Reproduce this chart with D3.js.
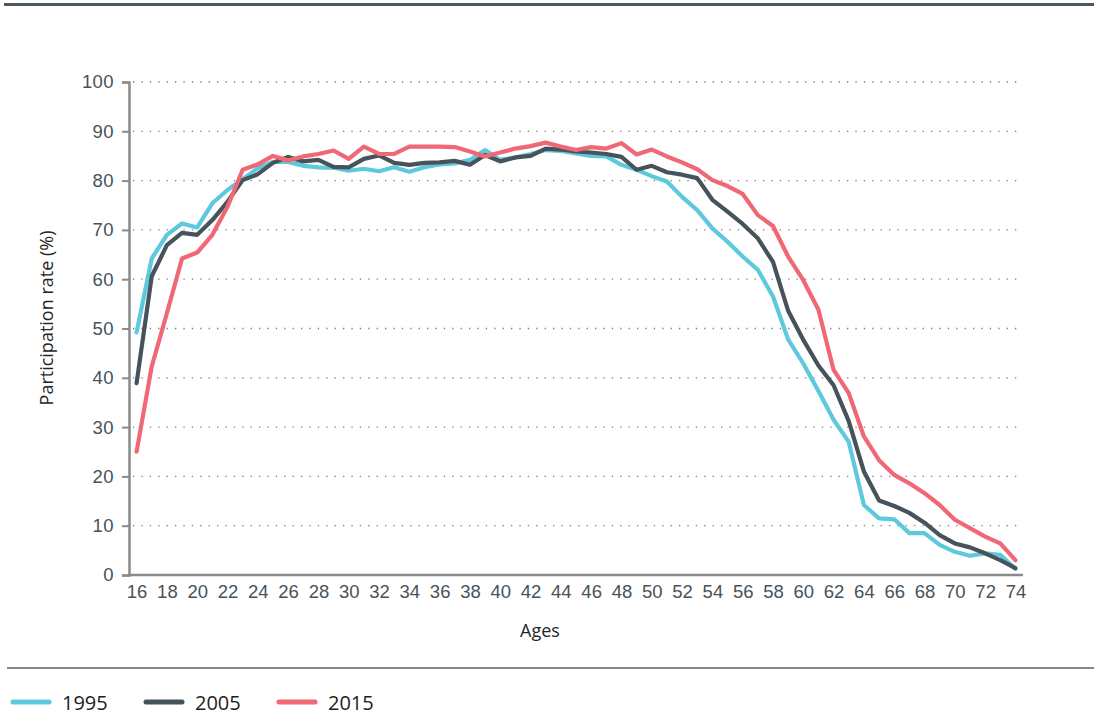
<!DOCTYPE html>
<html>
<head>
<meta charset="utf-8">
<script src="https://cdn.jsdelivr.net/npm/d3@7"></script>
<style>
  html, body { margin: 0; padding: 0; background: #fff; }
  svg { display: block; font-family: "Open Sans", Lato, sans-serif; }
</style>
</head>
<body>
<script>
// ages 16..74
const ages = d3.range(16, 75);
const yTicks = [0, 10, 20, 30, 40, 50, 60, 70, 80, 90, 100];
const xTickLabels = ages.filter(a => a % 2 === 0);

const rate1995 = [49.2, 64.2, 69.0, 71.3, 70.5, 75.4, 78.1, 80.3, 82.5, 83.8,
  83.8, 83.0, 82.7, 82.6, 82.0, 82.4, 81.9, 82.7, 81.8, 82.7,
  83.3, 83.5, 84.2, 86.2, 84.2, 84.7, 85.4, 86.2, 86.0, 85.5,
  85.0, 84.9, 83.2, 82.2, 80.9, 79.8, 76.7, 74.0, 70.3, 67.6,
  64.6, 61.9, 56.5, 47.8, 42.9, 37.3, 31.5, 27.0, 14.2, 11.5,
  11.3, 8.5, 8.5, 6.1, 4.7, 3.9, 4.4, 4.1, 1.2];
const rate2005 = [38.9, 60.6, 66.9, 69.4, 69.0, 72.0, 75.7, 80.1, 81.3, 83.6,
  84.8, 83.9, 84.2, 82.8, 82.7, 84.4, 85.1, 83.6, 83.2, 83.6,
  83.7, 84.0, 83.2, 85.2, 83.9, 84.7, 85.0, 86.5, 86.3, 85.9,
  85.7, 85.4, 84.8, 82.2, 83.0, 81.7, 81.2, 80.5, 76.1, 73.7,
  71.2, 68.3, 63.5, 53.6, 47.7, 42.5, 38.5, 31.2, 21.0, 15.1,
  14.0, 12.6, 10.6, 8.1, 6.4, 5.6, 4.4, 3.0, 1.4];
const rate2015 = [25.0, 42.3, 53.1, 64.2, 65.4, 69.0, 74.7, 82.2, 83.3, 85.0,
  84.1, 84.9, 85.4, 86.1, 84.4, 86.9, 85.4, 85.4, 86.9, 86.9,
  86.9, 86.8, 85.9, 84.9, 85.7, 86.5, 87.0, 87.7, 86.9, 86.2,
  86.8, 86.5, 87.6, 85.3, 86.3, 84.9, 83.7, 82.3, 80.1, 78.9,
  77.3, 73.0, 70.8, 64.6, 59.8, 53.8, 41.6, 36.9, 28.1, 23.3,
  20.3, 18.6, 16.6, 14.2, 11.2, 9.5, 7.8, 6.4, 3.0];

const seriesNames = ["1995", "2005", "2015"];
const seriesColors = ["#5ec9dc", "#46535b", "#f06775"];
const seriesData = [rate1995, rate2005, rate2015];

const W = 1094, H = 715;
const svg = d3.select("body").append("svg").attr("width", W).attr("height", H);

const x = d3.scalePoint().domain(ages).range([129, 1023]).padding(0.5);
const y = d3.scaleLinear().domain([0, 100]).range([575, 82]);

// top rule
svg.append("rect").attr("x", 4).attr("y", 3).attr("width", W - 4).attr("height", 3).attr("fill", "#4b575f");

// grid
svg.append("g").selectAll("line")
  .data(yTicks.filter(d => d > 0))
  .enter().append("line")
  .attr("x1", 133).attr("x2", 1023)
  .attr("y1", d => y(d)).attr("y2", d => y(d))
  .attr("stroke", "#7a7a7a").attr("stroke-width", 1.3)
  .attr("stroke-dasharray", "1.3,7.1");

// y axis
const yAxis = svg.append("g").attr("transform", "translate(129,0)")
  .call(d3.axisLeft(y).tickValues(yTicks).tickSize(7).tickPadding(8));
yAxis.select(".domain").attr("stroke", "#8a8a8a").attr("stroke-width", 2.5);
yAxis.selectAll(".tick line").attr("stroke", "#8a8a8a").attr("stroke-width", 2);
yAxis.selectAll(".tick text").attr("fill", "#46535b").attr("font-size", 18.5)
  .attr("letter-spacing", 0.4);

// x axis
const xAxis = svg.append("g").attr("transform", "translate(0,575)")
  .call(d3.axisBottom(x).tickValues(xTickLabels).tickSize(0).tickPadding(10));
xAxis.select(".domain").remove();
xAxis.selectAll(".tick text").attr("fill", "#46535b").attr("font-size", 18.5);
svg.append("line").attr("x1", 128).attr("x2", 1023).attr("y1", 575).attr("y2", 575)
  .attr("stroke", "#8a8a8a").attr("stroke-width", 2.5);

// axis titles
svg.append("text").attr("transform", "translate(53,318) rotate(-90)")
  .attr("text-anchor", "middle").attr("font-size", 18).attr("fill", "#262626")
  .text("Participation rate (%)");
svg.append("text").attr("x", 540).attr("y", 637)
  .attr("text-anchor", "middle").attr("font-size", 18).attr("fill", "#262626")
  .text("Ages");

// lines
const line = d3.line().x((d, i) => x(ages[i])).y(d => y(d));
svg.append("g").selectAll("path")
  .data(seriesData)
  .enter().append("path")
  .attr("d", line)
  .attr("fill", "none")
  .attr("stroke", (d, i) => seriesColors[i])
  .attr("stroke-width", 4.2)
  .attr("stroke-linejoin", "round")
  .attr("stroke-linecap", "round");

// bottom rule
svg.append("line").attr("x1", 7).attr("x2", W).attr("y1", 668).attr("y2", 668)
  .attr("stroke", "#7f8a8c").attr("stroke-width", 2);

// legend
const leg = svg.append("g").selectAll("g")
  .data(seriesNames)
  .enter().append("g")
  .attr("transform", (d, i) => `translate(${13 + i * 133},702)`);
leg.append("line").attr("x1", 0).attr("x2", 36).attr("y1", 0).attr("y2", 0)
  .attr("stroke", (d, i) => seriesColors[i]).attr("stroke-width", 5).attr("stroke-linecap", "round");
leg.append("text").attr("x", 49).attr("y", 7.5).attr("font-size", 20).attr("fill", "#1e1e1e")
  .text(d => d);
</script>
</body>
</html>
